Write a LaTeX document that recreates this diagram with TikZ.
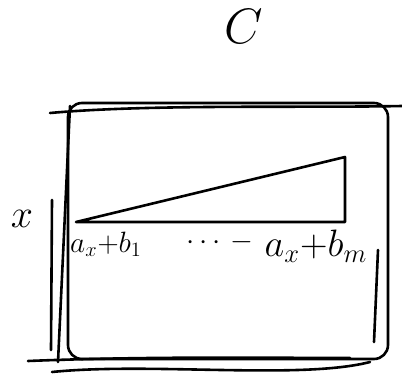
\documentclass[tikz,border=0pt]{standalone}
\usepackage{amsmath,amssymb}
\usepackage{tikz}
\usetikzlibrary{positioning, calc}
\tikzset{
  stroke/.style={draw, line width=2.6pt, line cap=round, line join=round},
  frame/.style={
    rectangle, stroke, rounded corners=14pt,
    minimum width=320pt, minimum height=256pt, inner sep=0pt
  },
  hand/.style={inner sep=0pt, font=\LARGE, scale=1.7},
  title/.style={inner sep=0pt, font=\Huge, scale=2},
}

\begin{document}
\begin{tikzpicture}[x=1pt, y=-1pt]
  \useasboundingbox (0,0) rectangle (402,378);

  \node[frame] (box) at (228,231) {};
  % second pass of the pen round the frame
  \draw[stroke] (50,113) .. controls (150,104) and (300,108) .. (402,106);
  \draw[stroke] (70,106) -- (58,362);
  \draw[stroke] (52,200) -- (51,350);
  \draw[stroke] (378,250) -- (374,342);
  \draw[stroke] (28,361) .. controls (150,356) and (280,358) .. (350,358);
  \draw[stroke] (52,372) .. controls (150,362) and (300,380) .. (370,362);

  \node[title] (cap) at (244,26) {$C$};
  \node[title, scale=0.8] (xin) at (22,219) {$x$};

  \coordinate (w1) at (76,222);
  \coordinate (w2) at (345,222);
  \coordinate (w3) at (345,157);
  \draw[stroke] (w1) -- (w2) -- (w3) -- cycle;

  \node[hand] (lo) at (106,244) {$a_x{+}b_1$};
  \node[hand, scale=1.3] (hi) at (316,246) {$a_x{+}b_m$};
  \node[hand] (dots) at (220,242) {$\cdots\,-$};
\end{tikzpicture}
\end{document}
